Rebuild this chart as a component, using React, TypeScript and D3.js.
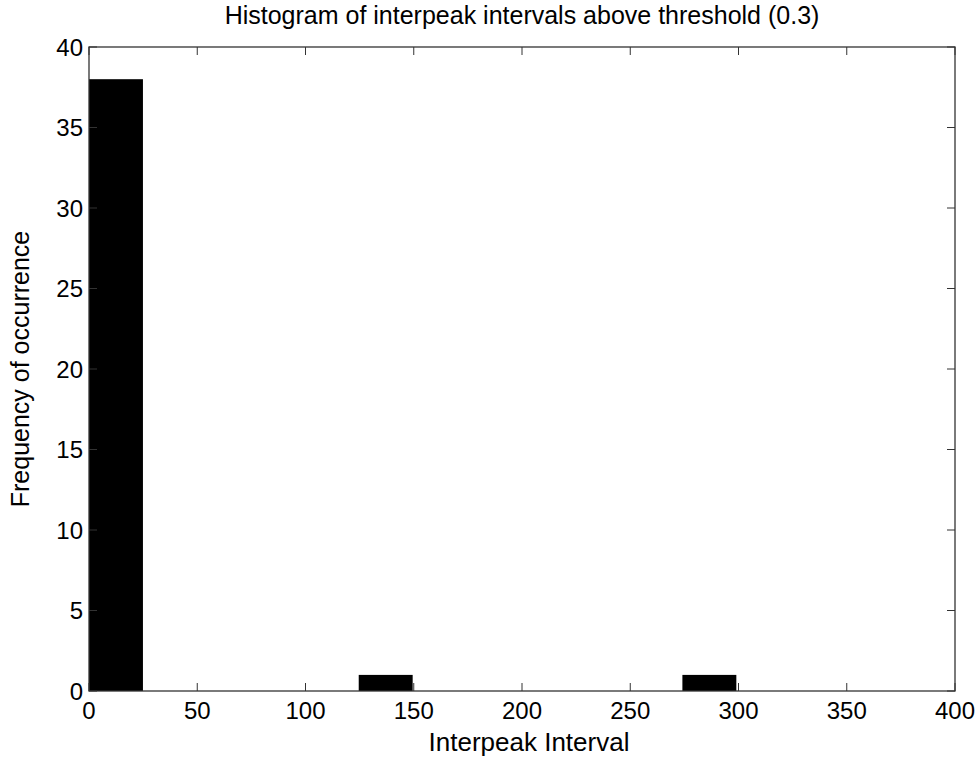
import React from "react";
import * as d3 from "d3";

// Histogram bins: 12 equal-width bins spanning the interval range
const binStart = 0;
const binEnd = 299;
const binCounts = [38, 0, 0, 0, 0, 1, 0, 0, 0, 0, 0, 1];
const xTicks = [0, 50, 100, 150, 200, 250, 300, 350, 400];
const yTicks = [0, 5, 10, 15, 20, 25, 30, 35, 40];

const titleText = "Histogram of interpeak intervals above threshold (0.3)";
const xLabelText = "Interpeak Interval";
const yLabelText = "Frequency of occurrence";

const W = 980;
const H = 758;
const margin = { left: 89, right: 25, top: 47, bottom: 67 };
const font = "'Liberation Sans', Arial, Helvetica, sans-serif";

export default function App() {
  const x = d3.scaleLinear().domain([0, 400]).range([margin.left, W - margin.right]);
  const y = d3.scaleLinear().domain([0, 40]).range([H - margin.bottom, margin.top]);
  const binW = (binEnd - binStart) / binCounts.length;
  const bins = binCounts.map((c, i) => ({
    x0: binStart + i * binW,
    x1: binStart + (i + 1) * binW,
    count: c,
  }));
  const [x0, x1] = x.range();
  const [yb, yt] = y.range();
  const tl = 8;

  return (
    <svg
      width={W}
      height={H}
      style={{ position: "absolute", left: 0, top: 0, background: "#fff" }}
      fontFamily={font}
    >
      <rect x={0} y={0} width={W} height={H} fill="#fff" />
      {/* bars */}
      {bins
        .filter((b) => b.count > 0)
        .map((b, i) => (
          <rect
            key={i}
            x={x(b.x0)}
            y={y(b.count)}
            width={x(b.x1) - x(b.x0)}
            height={y(0) - y(b.count)}
            fill="#000"
          />
        ))}
      {/* axes box */}
      <rect x={x0} y={yt} width={x1 - x0} height={yb - yt} fill="none" stroke="#333" strokeWidth={1.3} />
      {/* x ticks, top and bottom, pointing inward */}
      {xTicks.map((t) => (
        <g key={"x" + t}>
          <line x1={x(t)} x2={x(t)} y1={yb} y2={yb - tl} stroke="#333" strokeWidth={1} />
          <line x1={x(t)} x2={x(t)} y1={yt} y2={yt + tl} stroke="#333" strokeWidth={1} />
          <text x={x(t)} y={yb + 28} textAnchor="middle" fontSize={24} fill="#000">
            {t}
          </text>
        </g>
      ))}
      {/* y ticks, left and right, pointing inward */}
      {yTicks.map((t) => (
        <g key={"y" + t}>
          <line x1={x0} x2={x0 + tl} y1={y(t)} y2={y(t)} stroke="#333" strokeWidth={1} />
          <line x1={x1} x2={x1 - tl} y1={y(t)} y2={y(t)} stroke="#333" strokeWidth={1} />
          <text x={x0 - 6} y={y(t) + 8.5} textAnchor="end" fontSize={24} fill="#000">
            {t}
          </text>
        </g>
      ))}
      <text x={(x0 + x1) / 2} y={24} textAnchor="middle" fontSize={25} fill="#000">
        {titleText}
      </text>
      <text x={(x0 + x1) / 2 + 7} y={751} textAnchor="middle" fontSize={26} fill="#000">
        {xLabelText}
      </text>
      <text
        transform={`translate(29, ${(yb + yt) / 2}) rotate(-90)`}
        textAnchor="middle"
        fontSize={25}
        fill="#000"
      >
        {yLabelText}
      </text>
    </svg>
  );
}
